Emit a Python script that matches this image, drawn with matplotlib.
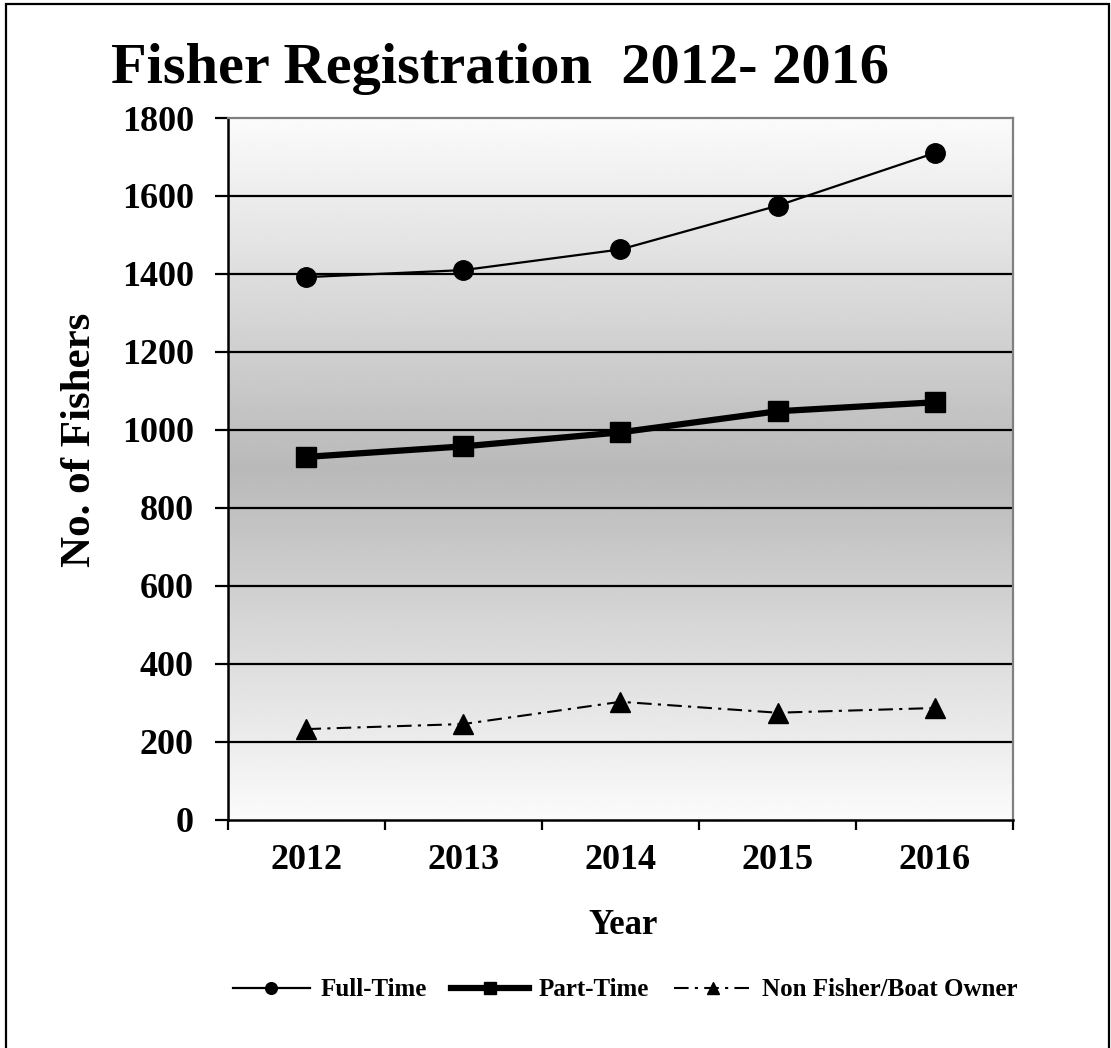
import matplotlib.pyplot as plt
import numpy as np
from matplotlib.patches import Rectangle

years = ["2012", "2013", "2014", "2015", "2016"]
full_time = [1392, 1410, 1463, 1575, 1710]
part_time = [931, 958, 994, 1048, 1071]
non_fisher = [233, 246, 303, 275, 287]
y_ticks = [0, 200, 400, 600, 800, 1000, 1200, 1400, 1600, 1800]

plt.rcParams["font.family"] = ["Liberation Serif", "DejaVu Serif"]
plt.rcParams["font.weight"] = "bold"

fig = plt.figure(figsize=(11.11, 10.48), dpi=100)
ax = fig.add_axes([0.2052, 0.2176, 0.7066, 0.6698])

x = np.arange(len(years))

# shaded plot area: light at top/bottom, grey in the middle
shade = np.abs(np.linspace(-1.0, 1.0, 256))
shade = 185 + (251 - 185) * shade
ax.imshow(shade.reshape(-1, 1), cmap="gray", vmin=0, vmax=255, aspect="auto",
          extent=(-0.5, len(years) - 0.5, y_ticks[0], y_ticks[-1]),
          origin="lower", zorder=0, interpolation="bilinear")

for val in y_ticks[1:-1]:
    ax.axhline(val, color="black", lw=1.6, zorder=1)

ax.plot(x, full_time, color="black", lw=1.6, marker="o", markersize=14,
        label="Full-Time", zorder=3)
ax.plot(x, part_time, color="black", lw=4.5, marker="s", markersize=14,
        label="Part-Time", zorder=3)
ax.plot(x, non_fisher, color="black", lw=1.5, marker="^", markersize=15,
        dashes=[7, 3, 1.5, 3], label="Non Fisher/Boat Owner", zorder=3)

ax.set_xlim(-0.5, len(years) - 0.5)
ax.set_ylim(y_ticks[0], y_ticks[-1])
ax.set_yticks(y_ticks)
ax.set_xticks(np.arange(len(years) + 1) - 0.5)
ax.set_xticklabels([])
ax.set_xticks(x, minor=True)
ax.set_xticklabels(years, minor=True)

ax.tick_params(axis="y", direction="out", length=9.5, width=1.6, pad=15, labelsize=26)
ax.tick_params(axis="x", which="major", direction="out", length=7.5, width=1.6)
ax.tick_params(axis="x", which="minor", length=0, pad=17, labelsize=26)

for side in ["left", "bottom"]:
    ax.spines[side].set_linewidth(1.8)
    ax.spines[side].set_color("black")
for side in ["top", "right"]:
    ax.spines[side].set_linewidth(1.6)
    ax.spines[side].set_color("#808080")

fig.text(0.45, 0.9208, "Fisher Registration  2012- 2016", fontsize=42,
         fontweight="bold", ha="center", va="baseline")
fig.text(0.0720, 0.580, "No. of Fishers", fontsize=31, fontweight="bold",
         rotation=90, ha="center", va="center")
fig.text(0.5608, 0.1088, "Year", fontsize=25, fontweight="bold",
         ha="center", va="baseline")

leg = fig.legend(loc="center", bbox_to_anchor=(0.5625, 0.0555), ncol=3,
                 frameon=False, fontsize=18, markerscale=0.6, handlelength=3.1,
                 handletextpad=0.4, columnspacing=1.0)
for text in leg.get_texts():
    text.set_fontweight("bold")

fig.add_artist(Rectangle((0.0054, -0.01), 0.9926, 1.006, transform=fig.transFigure,
                         fill=False, edgecolor="black", lw=1.6, clip_on=False))

fig.savefig("out.png", dpi=100)
